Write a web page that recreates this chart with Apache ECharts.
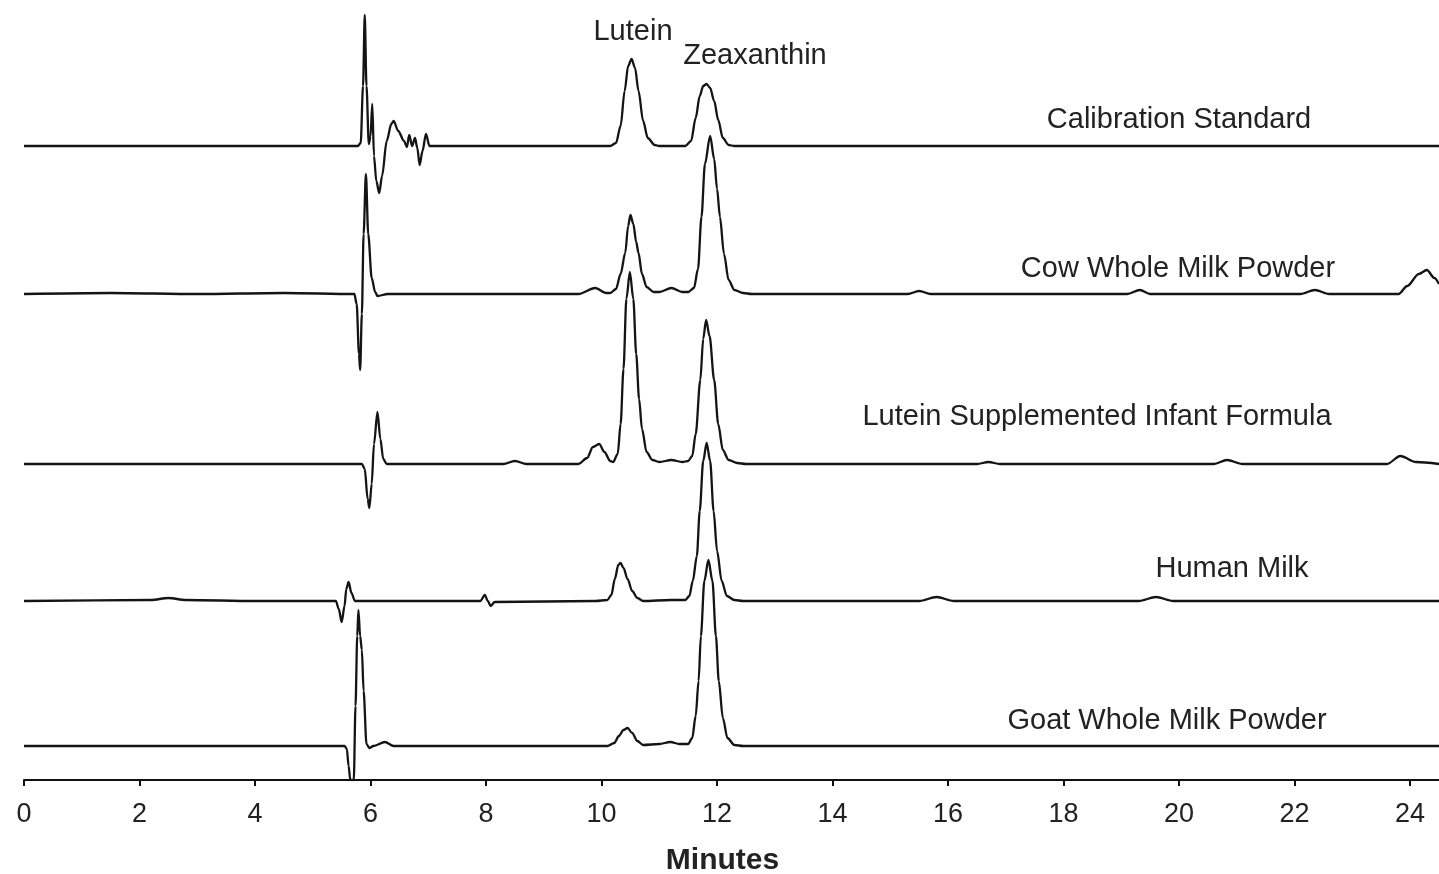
<!DOCTYPE html>
<html>
<head>
<meta charset="utf-8">
<script src="https://cdn.jsdelivr.net/npm/echarts@6/dist/echarts.min.js"></script>
<style>
html,body{margin:0;padding:0;background:#fff;}
#chart{width:1439px;height:874px;}
</style>
</head>
<body>
<div id="chart"></div>
<script>
// X axis ticks (minutes)
const xTicks = [0, 2, 4, 6, 8, 10, 12, 14, 16, 18, 20, 22, 24];

// Sample names (traces, top to bottom)
const sampleNames = [
  "Calibration Standard",
  "Cow Whole Milk Powder",
  "Lutein Supplemented Infant Formula",
  "Human Milk",
  "Goat Whole Milk Powder"
];

// Peak names
const peakNames = ["Lutein", "Zeaxanthin"];

// Detector signal [minutes, response]
const calibrationStandard = [
  [0,0],[5.78,0],[5.83,3],[5.87,60],[5.90,131],[5.93,60],[5.97,2],[6.00,10],[6.03,42],[6.06,-10],
  [6.10,-35],[6.15,-47],[6.20,-30],[6.28,5],[6.36,22],[6.40,25],[6.48,15],[6.58,5],[6.63,-1],
  [6.67,11],[6.72,0],[6.77,8],[6.81,-2],[6.85,-19],[6.90,-5],[6.96,12],[7.02,0],
  [10.15,0],[10.25,3],[10.33,20],[10.40,55],[10.46,80],[10.52,87],[10.58,78],[10.64,55],[10.72,25],
  [10.80,8],[10.92,1],[11.0,0],
  [11.45,0],[11.55,5],[11.63,28],[11.70,50],[11.76,60],[11.82,62],[11.88,58],[11.95,45],[12.02,26],
  [12.10,8],[12.20,1],[12.3,0],[24.5,0]
];

const cowWholeMilkPowder = [
  [0,0],[1.5,1],[3,0],[4.5,1],[5.72,0],[5.76,-10],[5.80,-60],[5.82,-76],[5.85,-20],[5.88,60],
  [5.92,120],[5.96,60],[6.02,16],[6.08,2],[6.12,-2],[6.3,0],[8,0],[9.6,0],[9.89,6],[10.08,1],
  [10.15,1],[10.25,5],[10.33,20],[10.41,41],[10.46,68],[10.50,79],[10.55,70],[10.60,52],[10.64,41],
  [10.70,20],[10.78,7],[10.90,2],[11.0,2],[11.21,6],[11.40,2],
  [11.50,2],[11.60,6],[11.67,25],[11.73,77],[11.79,130],[11.88,158],[11.95,135],[12.00,105],[12.05,77],
  [12.12,40],[12.20,14],[12.30,4],[12.45,1],[12.6,0],
  [15.3,0],[15.5,3],[15.7,0],[19.1,0],[19.32,4],[19.5,0],[22.1,0],[22.35,4],[22.6,0],
  [23.8,0],[23.95,8],[24.15,20],[24.29,24],[24.42,16],[24.5,10]
];

const luteinInfantFormula = [
  [0,0],[3,0],[5.85,0],[5.90,-5],[5.95,-35],[5.98,-44],[6.02,-20],[6.06,20],[6.12,52],[6.17,25],
  [6.22,5],[6.28,0],[8.3,0],[8.5,3],[8.7,0],[9.6,0],[9.75,6],[9.85,17],[9.96,20],[10.05,12],
  [10.15,3],[10.20,2],[10.28,10],[10.33,40],[10.38,95],[10.43,165],[10.49,192],[10.55,165],
  [10.60,110],[10.65,65],[10.70,35],[10.78,12],[10.88,4],[11.0,2],[11.21,4],[11.40,2],
  [11.50,3],[11.57,8],[11.63,30],[11.71,84],[11.76,125],[11.81,144],[11.87,128],[11.95,84],
  [12.02,40],[12.10,14],[12.20,4],[12.35,1],[12.5,0],
  [16.5,0],[16.7,2],[16.9,0],[20.6,0],[20.83,4],[21.1,0],[23.6,0],[23.83,8],[24.1,2],[24.5,0]
];

const humanMilk = [
  [0,0],[2.2,1],[2.5,3],[2.8,1],[4,0],[5.40,0],[5.45,-8],[5.50,-21],[5.55,-5],[5.58,12],
  [5.62,19],[5.67,8],[5.73,0],[7.9,0],[7.98,6],[8.03,0],[8.08,-5],[8.15,-1],[9.9,0],
  [10.10,1],[10.17,6],[10.23,22],[10.29,36],[10.33,38],[10.38,33],[10.45,22],[10.53,10],
  [10.62,3],[10.72,0],[11.2,1],
  [11.45,1],[11.52,5],[11.58,20],[11.65,45],[11.70,90],[11.76,140],[11.82,158],[11.88,140],
  [11.94,90],[12.00,50],[12.08,20],[12.17,5],[12.30,1],[12.45,0],
  [15.5,0],[15.8,4],[16.1,0],[19.3,0],[19.6,4],[19.9,0],[24.5,0]
];

const goatWholeMilkPowder = [
  [0,0],[3,0],[5.55,0],[5.59,-3],[5.62,-20],[5.65,-34],[5.71,-34],[5.74,40],[5.77,110],[5.79,136],
  [5.82,110],[5.85,96],[5.88,55],[5.93,2],[5.98,-2],[6.05,0],[6.25,4],[6.40,0],
  [10.1,0],[10.22,3],[10.30,10],[10.38,16],[10.45,18],[10.53,13],[10.62,5],[10.72,1],
  [11.0,2],[11.19,4],[11.35,2],
  [11.50,2],[11.57,8],[11.63,30],[11.68,65],[11.72,110],[11.78,165],[11.85,186],[11.92,165],
  [11.98,110],[12.03,65],[12.10,28],[12.18,8],[12.30,1],[12.45,0],[24.5,0]
];

const traces = [calibrationStandard, cowWholeMilkPowder, luteinInfantFormula, humanMilk, goatWholeMilkPowder];

// Layout: vertical stacking offsets of each trace (in plot units = px)
const stackOffsets = [634, 486, 316, 179, 34];

const chart = echarts.init(document.getElementById('chart'));
const LINE = '#141414';
const TXT = '#222';
const FONT = '"Liberation Sans", Arial, sans-serif';

const series = traces.map((tr, i) => ({
  name: sampleNames[i],
  type: 'line',
  showSymbol: false,
  smooth: 0.3,
  smoothMonotone: 'x',
  clip: true,
  lineStyle: { color: LINE, width: 2.3 },
  data: tr.map(p => [p[0], p[1] + stackOffsets[i]])
}));

const labelPos = [
  { t: sampleNames[0], x: 1179, y: 120 },
  { t: sampleNames[1], x: 1178, y: 269 },
  { t: sampleNames[2], x: 1097, y: 417 },
  { t: sampleNames[3], x: 1232, y: 569 },
  { t: sampleNames[4], x: 1167, y: 721 },
  { t: peakNames[0], x: 633, y: 32 },
  { t: peakNames[1], x: 755, y: 56 }
];

chart.setOption({
  animation: false,
  backgroundColor: '#fff',
  grid: { left: 24, right: 0, top: 0, bottom: 94, containLabel: false, outerBoundsMode: 'none' },
  xAxis: {
    type: 'value',
    min: 0, max: 24.5, interval: 2,
    name: 'Minutes',
    nameLocation: 'middle',
    nameGap: 66,
    nameTextStyle: { fontFamily: FONT, fontSize: 30, fontWeight: 'bold', color: TXT, padding: [0, 18, 0, 0] },
    axisLine: { onZero: false, lineStyle: { color: '#111', width: 2 } },
    axisTick: { show: true, inside: false, length: 6, lineStyle: { color: '#111', width: 2 } },
    axisLabel: {
      fontFamily: FONT, fontSize: 27, color: TXT, margin: 21, showMaxLabel: false,
      formatter: v => (xTicks.indexOf(v) >= 0 ? String(v) : '')
    },
    splitLine: { show: false }
  },
  yAxis: {
    type: 'value', min: 0, max: 780, show: false,
    splitLine: { show: false }
  },
  series: series,
  graphic: labelPos.map(l => ({
    type: 'text',
    x: l.x, y: l.y,
    style: {
      text: l.t, fill: TXT, font: '29px ' + FONT,
      textAlign: 'center', textVerticalAlign: 'middle'
    }
  }))
});
</script>
</body>
</html>
